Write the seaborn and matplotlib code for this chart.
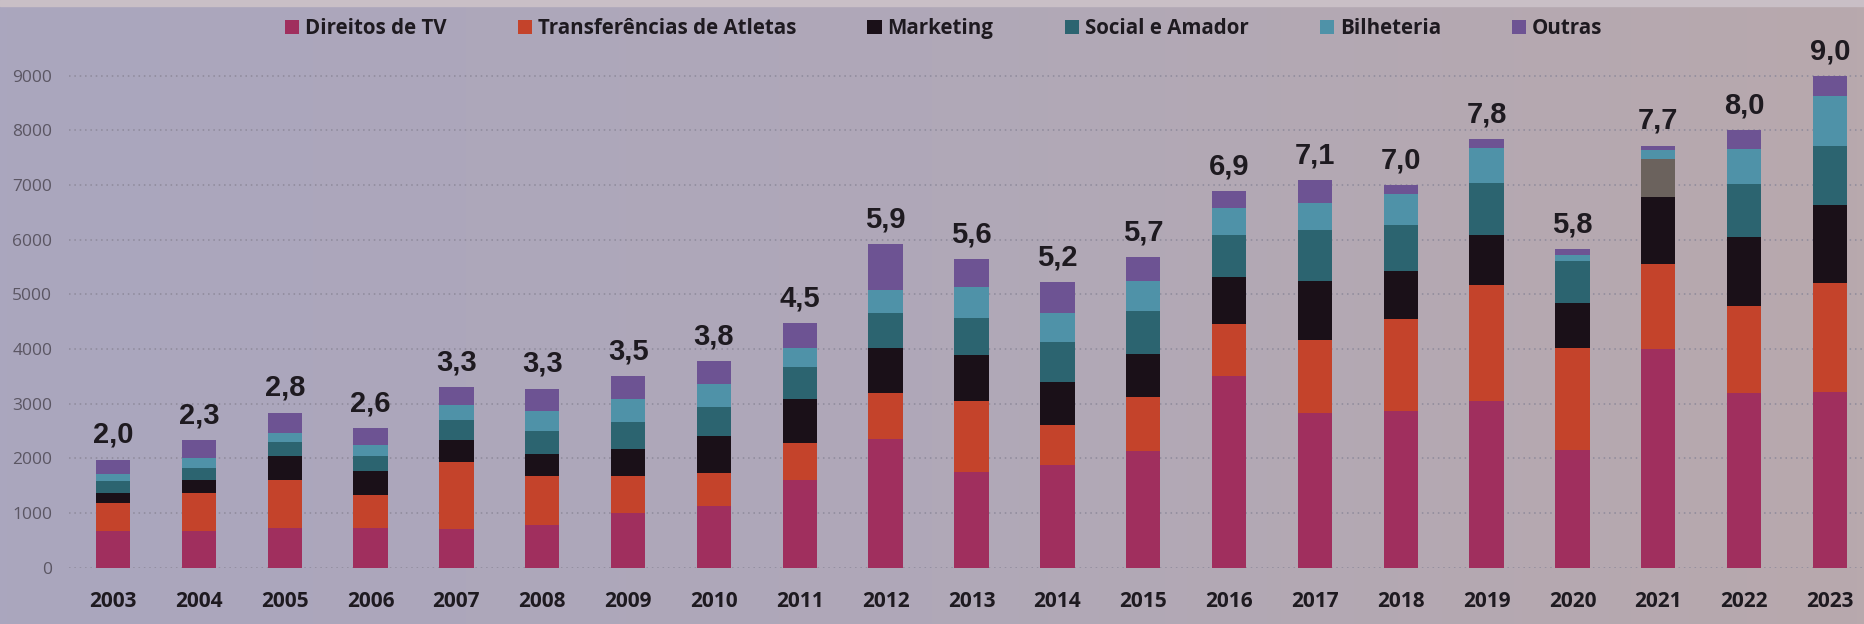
import numpy as np
import pandas as pd
import matplotlib
matplotlib.use("Agg")
import matplotlib.pyplot as plt
from matplotlib.patches import Patch
from matplotlib.colors import LinearSegmentedColormap
import seaborn as sns

years = [str(y) for y in range(2003, 2024)]
tv = [660, 660, 720, 720, 700, 770, 1000, 1130, 1600, 2350, 1740, 1870, 2130, 3500, 2820, 2860, 3040, 2150, 4000, 3190, 3220]
transf = [520, 700, 890, 600, 1240, 900, 680, 600, 680, 840, 1300, 740, 990, 960, 1350, 1690, 2130, 1860, 1560, 1600, 1980]
marketing = [175, 250, 430, 440, 390, 410, 480, 680, 800, 820, 840, 780, 790, 860, 1080, 870, 920, 830, 1220, 1260, 1440]
social = [220, 220, 255, 280, 365, 410, 495, 530, 580, 650, 685, 730, 790, 765, 920, 840, 950, 760, 690, 960, 1080]
bilheteria = [145, 165, 175, 210, 270, 380, 430, 420, 365, 420, 575, 530, 545, 490, 500, 575, 635, 115, 170, 655, 900]
outras = [255, 330, 365, 305, 330, 405, 420, 410, 445, 830, 500, 575, 430, 305, 415, 160, 165, 115, 80, 335, 365]
total_labels = ["2,0", "2,3", "2,8", "2,6", "3,3", "3,3", "3,5", "3,8", "4,5", "5,9", "5,6",
                "5,2", "5,7", "6,9", "7,1", "7,0", "7,8", "5,8", "7,7", "8,0", "9,0"]

series_names = ["Direitos de TV", "Transferências de Atletas", "Marketing",
                "Social e Amador", "Bilheteria", "Outras"]
series_colors = ["#a02f5e", "#c4432b", "#1a1018", "#2c6470", "#4f92a8", "#6d5393"]

df = pd.DataFrame({"ano": years, "Direitos de TV": tv, "Transferências de Atletas": transf,
                   "Marketing": marketing, "Social e Amador": social,
                   "Bilheteria": bilheteria, "Outras": outras})

sns.set_style("white")
plt.rcParams["font.family"] = ["Open Sans", "DejaVu Sans"]

fig = plt.figure(figsize=(18.64, 6.24), dpi=100)

# background wash (stands in for the photo behind the chart)
bg = fig.add_axes([0, 0, 1, 1], zorder=-5)
cmap = LinearSegmentedColormap.from_list("wash", ["#aaa6be", "#b0a8b8", "#b8a9ad"])
grad = np.tile(np.linspace(0, 1, 256), (64, 1))
bg.imshow(grad, cmap=cmap, aspect="auto", extent=[0, 1, 0, 1])
bg.axhspan(0.99, 1.0, color="#c9bfc6")
bg.set_axis_off()

ax = fig.add_axes([0.03702, 0.09045, 0.96298, 0.8235])
ax.set_facecolor("none")

# stacked bars: draw cumulative totals from top series down
cum = df[series_names].cumsum(axis=1)
for i in range(len(series_names) - 1, -1, -1):
    name = series_names[i]
    sns.barplot(x=df["ano"], y=cum[name], color=series_colors[i], width=0.4,
                saturation=1, edgecolor="none", linewidth=0, ax=ax, zorder=3)
    if name == "Social e Amador":
        # 2021 block is shown in a grey-brown tone in the original
        ax.containers[-1].patches[years.index("2021")].set_facecolor("#6b625d")

totals = cum["Outras"].tolist()
for i, lab in enumerate(total_labels):
    ax.annotate(lab, (i, totals[i]), xytext=(0, 12), textcoords="offset points",
                ha="center", va="baseline", fontsize=21, fontweight="bold",
                family="Liberation Sans", color="#1e1a20", annotation_clip=False)

ax.set_xlim(-0.5125, 20.396)
ax.set_ylim(0, 9400)
ax.set_yticks(range(0, 9001, 1000))
ax.set_yticklabels([str(v) for v in range(0, 9001, 1000)])
ax.yaxis.grid(True, linestyle=(0, (1, 2.5)), color="#8d899a", linewidth=1.1, zorder=0)
ax.xaxis.grid(False)
ax.tick_params(axis="y", length=0, pad=12, labelsize=12.5, labelcolor="#5b5663")
ax.tick_params(axis="x", length=0, pad=17)
for t in ax.get_xticklabels():
    t.set_fontsize(15)
    t.set_fontweight("bold")
    t.set_color("#1e1a20")
ax.set_xlabel("")
ax.set_ylabel("")
sns.despine(ax=ax, left=True, bottom=True)

handles = [Patch(facecolor=c, edgecolor="none", label=n) for n, c in zip(series_names, series_colors)]
fs = 20.5
fig.legend(handles=handles, loc="center left", bbox_to_anchor=(285 / 1864, 1 - 28.5 / 624),
           ncol=6, frameon=False, borderpad=0, borderaxespad=0,
           prop={"family": "Open Sans", "size": 14.8, "weight": "bold"},
           handlelength=14 / fs, handleheight=14 / fs, handletextpad=6 / fs,
           columnspacing=71 / fs, labelcolor="#1e1a20")

plt.savefig("out.png", dpi=100)
